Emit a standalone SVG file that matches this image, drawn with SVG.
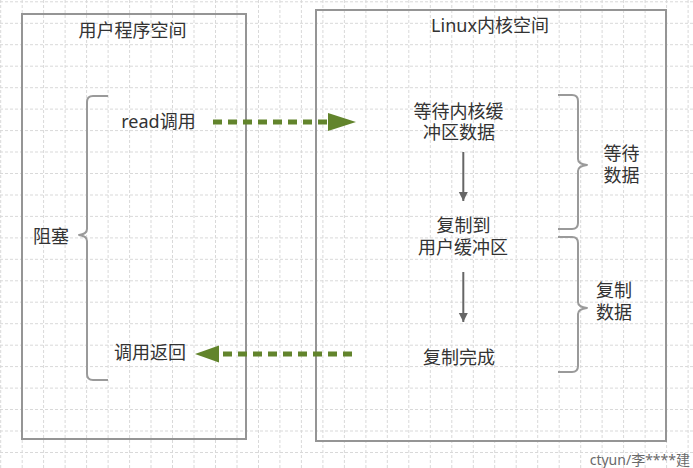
<svg xmlns="http://www.w3.org/2000/svg" width="693" height="468" viewBox="0 0 693 468">
<defs>
<style>
.grid{fill:none;stroke:#d9d9d9;stroke-width:1;stroke-dasharray:3 2}
.box{fill:none;stroke:#959595;stroke-width:2}
.brace{fill:none;stroke:#9a9a9a;stroke-width:2;stroke-linejoin:round}
.t{font-family:"Noto Sans","Noto Sans CJK SC",sans-serif;font-size:18px;fill:#333;text-anchor:middle}
.c{font-family:"Liberation Sans","Noto Sans CJK SC",sans-serif}
.dash{fill:none;stroke:#62842c;stroke-width:5;stroke-dasharray:9 6}
.solid{fill:none;stroke:#666;stroke-width:2}
.wm{font-family:"Noto Sans","Noto Sans CJK SC",sans-serif;font-size:14px;fill:#6a6a6a;text-anchor:end}
</style>
<marker id="ah" viewBox="0 0 10 10" refX="10" refY="5" markerWidth="4.5" markerHeight="5.5" orient="auto" markerUnits="strokeWidth">
<path d="M0 0L10 5L0 10z" fill="#666"/>
</marker>
</defs>
<rect width="693" height="468" fill="#fff"/>
<g id="grid">
<path class="grid" d="M0.7 0V468M22.2 0V468M43.6 0V468M65.1 0V468M86.6 0V468M108.1 0V468M129.6 0V468M151 0V468M172.5 0V468M194 0V468M215.5 0V468M237 0V468M258.5 0V468M279.9 0V468M301.4 0V468M322.9 0V468M344.4 0V468M365.9 0V468M387.3 0V468M408.8 0V468M430.3 0V468M451.8 0V468M473.3 0V468M494.7 0V468M516.2 0V468M537.7 0V468M559.2 0V468M580.7 0V468M602.1 0V468M623.6 0V468M645.1 0V468M666.6 0V468M688.1 0V468"/>
<path class="grid" d="M0 1.8H693M0 23.3H693M0 44.7H693M0 66.2H693M0 87.7H693M0 109.1H693M0 130.6H693M0 152H693M0 173.5H693M0 195H693M0 216.4H693M0 237.9H693M0 259.3H693M0 280.8H693M0 302.2H693M0 323.7H693M0 345.2H693M0 366.6H693M0 388.1H693M0 409.5H693M0 431H693M0 452.5H693"/>
</g>
<g id="user-space">
<rect class="box" x="22" y="14" width="224" height="425"/>
<text class="t c" x="132.5" y="37">用户程序空间</text>
</g>
<g id="kernel-space">
<rect class="box" x="316" y="10" width="350" height="431"/>
<text class="t" x="490" y="32">Linux内核空间</text>
</g>
<g id="read-call"><text class="t" x="158.5" y="128">read调用</text></g>
<g id="call-return"><text class="t c" x="150" y="358.5">调用返回</text></g>
<g id="block">
<path class="brace" d="M108 96H93Q87 96 87 102V229Q87 234 79 235Q87 236 87 241V374Q87 380 93 380H108"/>
<text class="t c" x="51" y="243">阻塞</text>
</g>
<g id="wait-kernel"><text class="t c" x="458.5" y="118">等待内核缓<tspan x="459" dy="21">冲区数据</tspan></text></g>
<g id="copy-to-user"><text class="t c" x="463.5" y="232">复制到<tspan x="463" dy="22">用户缓冲区</tspan></text></g>
<g id="copy-done"><text class="t c" x="459" y="363.5">复制完成</text></g>
<g id="wait-data">
<path class="brace" d="M558 95H572Q578 95 578 101V159Q578 164 587 165Q578 166 578 171V223Q578 229 572 229H558"/>
<text class="t c" x="621.5" y="160">等待<tspan x="621.5" dy="21.5">数据</tspan></text>
</g>
<g id="copy-data">
<path class="brace" d="M558 237H572Q578 237 578 243V302Q578 307 587 308Q578 309 578 314V366Q578 372 572 372H558"/>
<text class="t c" x="614" y="297">复制<tspan x="614" dy="21.5">数据</tspan></text>
</g>
<g id="connectors">
<path class="dash" d="M213 122H329"/>
<path d="M328 113L356 122L328 131z" fill="#62842c"/>
<path class="dash" d="M352 354H219"/>
<path d="M219 345.5L195 354L219 362.5z" fill="#62842c"/>
<path class="solid" d="M463.3 152V201" marker-end="url(#ah)"/>
<path class="solid" d="M463.3 272V322" marker-end="url(#ah)"/>
</g>
<text class="wm" x="690" y="465">ctyun/李****建</text>
</svg>
